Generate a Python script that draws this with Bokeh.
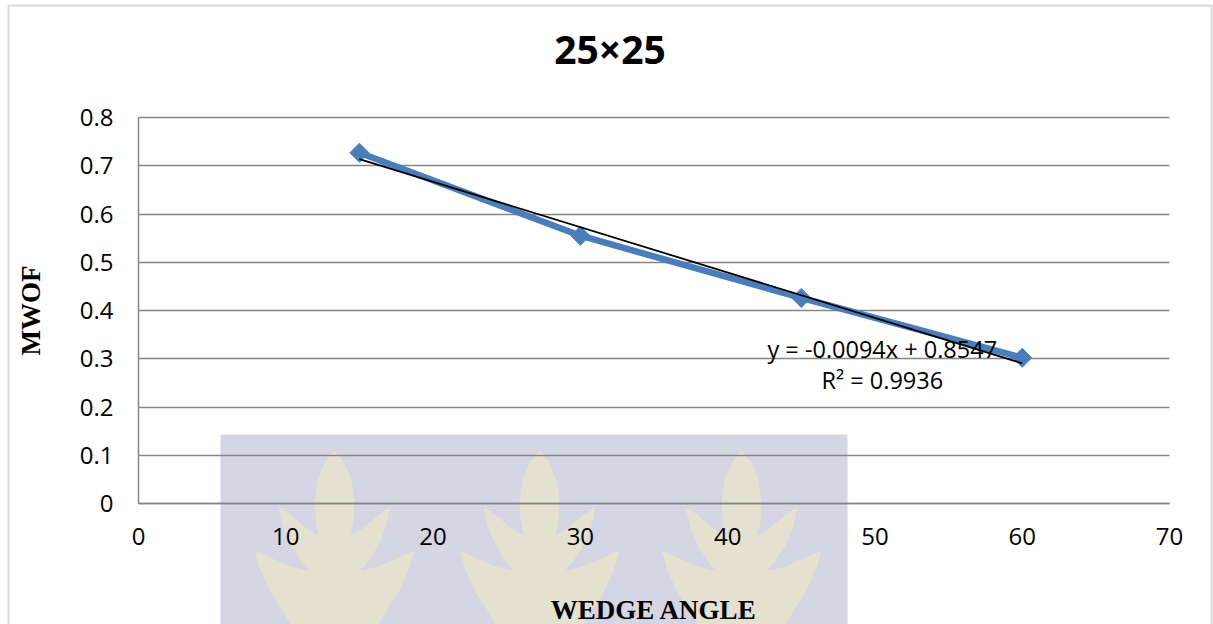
from bokeh.plotting import figure
from bokeh.models import (Range1d, FixedTicker, BoxAnnotation, PolyAnnotation,
                          Label, ColumnDataSource)
from bokeh.embed import file_html
from bokeh.resources import INLINE

# Measured series: wedge angle (deg) vs MWOF
wedge_angle = [15, 30, 45, 60]
mwof = [0.727, 0.555, 0.426, 0.302]

# Linear trendline as reported on the chart
trend_slope = -0.0094
trend_intercept = 0.8547
trend_r2 = 0.9936

x_ticks = [0, 10, 20, 30, 40, 50, 60, 70]
x_tick_labels = ["0", "10", "20", "30", "40", "50", "60", "70"]
y_ticks = [0, 0.1, 0.2, 0.3, 0.4, 0.5, 0.6, 0.7, 0.8]
y_tick_labels = ["0", "0.1", "0.2", "0.3", "0.4", "0.5", "0.6", "0.7", "0.8"]

title_text = "25×25"
x_label = "WEDGE ANGLE"
y_label = "MWOF"

# Page geometry (pixels): where the axis extents sit on the page
W, H = 1213, 624
PX_LEFT, PX_RIGHT = 138, 1169      # x = 0 .. 70
PX_TOP, PX_BOTTOM = 117, 503       # y = 0.8 .. 0
X0, X1 = 0, 70
Y0, Y1 = 0, 0.8


def px_x(px):
    return X0 + (px - PX_LEFT) * (X1 - X0) / (PX_RIGHT - PX_LEFT)


def px_y(py):
    return Y0 + (PX_BOTTOM - py) * (Y1 - Y0) / (PX_BOTTOM - PX_TOP)


GRID = "#868686"
BLUE = "#4a7ebb"

# The plotting frame covers the whole page; both axes are pinned at the origin
p = figure(width=W, height=H,
           x_range=Range1d(px_x(0), px_x(W)), y_range=Range1d(px_y(H), px_y(0)),
           output_backend="svg", toolbar_location=None, title=None,
           min_border=0,
           background_fill_color="white", border_fill_color="white",
           outline_line_color=None)

# Axes
for ax in (p.xaxis[0], p.yaxis[0]):
    ax.fixed_location = 0
    ax.axis_line_color = GRID
    ax.axis_line_width = 1.5
    ax.major_tick_line_color = None
    ax.minor_tick_line_color = None
    ax.major_tick_out = 0
    ax.major_tick_in = 0
    ax.major_label_text_font = "Open Sans"
    ax.major_label_text_font_size = "24px"
    ax.major_label_text_color = "#000000"
    ax.axis_label_text_font = "Liberation Serif"
    ax.axis_label_text_font_style = "bold"
    ax.axis_label_text_font_size = "27px"
    ax.axis_label_text_color = "#000000"

p.xaxis.ticker = FixedTicker(ticks=x_ticks)
p.xaxis.bounds = (X0, X1)
p.xaxis.major_label_overrides = dict(zip(x_ticks, x_tick_labels))
p.xaxis.major_label_standoff = 24
p.xaxis.axis_label = x_label
p.xaxis.axis_label_standoff = 47

p.yaxis.ticker = FixedTicker(ticks=y_ticks)
p.yaxis.bounds = (Y0, Y1)
p.yaxis.major_label_overrides = dict(zip(y_ticks, y_tick_labels))
p.yaxis.major_label_standoff = 25
p.yaxis.axis_label = y_label
p.yaxis.axis_label_standoff = 31

p.xgrid.grid_line_color = None
p.ygrid.ticker = FixedTicker(ticks=y_ticks)
p.ygrid.cross_bounds = (X0, X1)
p.ygrid.grid_line_color = GRID
p.ygrid.grid_line_width = 1.5

# Background watermark: tinted panel with three flame shapes
p.add_layout(BoxAnnotation(left=px_x(220), right=px_x(847), top=px_y(434), bottom=px_y(H + 20),
                           fill_color="#d5d5e3", fill_alpha=1.0, line_color=None,
                           level="image"))

flame_half = [(0, 450), (10, 462), (17, 480), (20, 500), (19, 520), (16, 535),
              (28, 528), (42, 516), (56, 506), (52, 525), (44, 545), (34, 560),
              (26, 570), (44, 566), (62, 558), (80, 550), (74, 570), (64, 592),
              (52, 610), (44, 624), (40, 660)]
for cx in (334, 539, 741):
    right = [(cx + dx, y) for dx, y in flame_half]
    left = [(cx - dx, y) for dx, y in reversed(flame_half)]
    pts = right + left
    p.add_layout(PolyAnnotation(xs=[px_x(a) for a, _ in pts], ys=[px_y(b) for _, b in pts],
                                fill_color="#e4e1d1", fill_alpha=1.0, line_color=None,
                                level="image"))

# Outer chart border
p.add_layout(BoxAnnotation(left=px_x(8), right=px_x(1211), top=px_y(5), bottom=px_y(H + 20),
                           fill_color=None, fill_alpha=0, line_color="#808080",
                           line_width=2, level="overlay"))

# Data series
src = ColumnDataSource(dict(x=wedge_angle, y=mwof))
p.line("x", "y", source=src, line_color=BLUE, line_width=6.5)
p.scatter("x", "y", source=src, marker="square", angle=0.785398, size=13.5,
          fill_color=BLUE, line_color=BLUE)

# Trendline
tx = [wedge_angle[0], wedge_angle[-1]]
ty = [trend_slope * x + trend_intercept for x in tx]
p.line(tx, ty, line_color="black", line_width=1.8)

p.add_layout(Label(x=50.5, y=0.321, text=f"y = {trend_slope}x + {trend_intercept}",
                   text_align="center", text_baseline="middle",
                   text_font="Open Sans", text_font_size="23.5px", text_color="#000000"))
p.add_layout(Label(x=50.5, y=0.255, text=f"R² = {trend_r2}",
                   text_align="center", text_baseline="middle",
                   text_font="Open Sans", text_font_size="23.5px", text_color="#000000"))

# Chart title
p.add_layout(Label(x=px_x(609.5), y=px_y(48), text=title_text,
                   text_align="center", text_baseline="middle",
                   text_font="Open Sans", text_font_style="bold",
                   text_font_size="39px", text_color="#000000"))

open("out.html", "w").write(file_html(p, INLINE))
